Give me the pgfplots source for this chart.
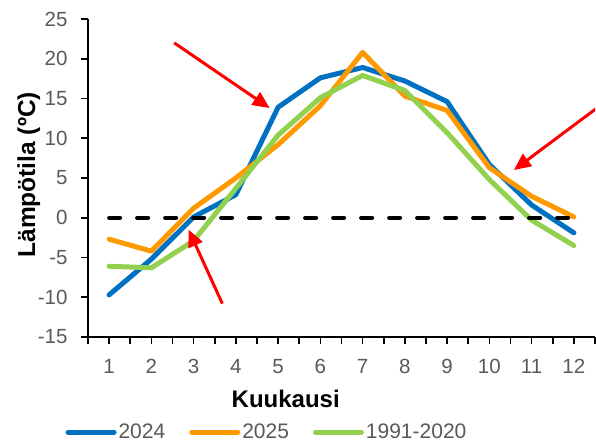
\documentclass[border=0pt]{standalone}
\usepackage{pgfplots}
\pgfplotsset{compat=1.18}
\usepackage{fontspec}
\setmainfont{Liberation Sans}
\usetikzlibrary{arrows.meta}
\definecolor{c2024}{HTML}{0070C0}
\definecolor{c2025}{HTML}{FF9900}
\definecolor{cnorm}{HTML}{92D050}
\definecolor{tickgray}{HTML}{595959}

\begin{document}
\begin{tikzpicture}
\useasboundingbox (-88bp,-106bp) rectangle (508bp,337bp);
\begin{axis}[
  scale only axis, width=507bp, height=318bp,
  xmin=0.5, xmax=12.5, ymin=-15, ymax=25,
  axis lines*=left,
  axis line style={line width=1.8bp},
  xtick={1,...,12}, minor xtick={0.5,1.5,...,12.5},
  ytick={-15,-10,...,25},
  tick align=outside,
  major tick length=7bp, minor tick length=7bp,
  tick style={black, line width=1.6bp},
  ticklabel style={font=\fontsize{20.5bp}{24bp}\selectfont, text=tickgray},
  xticklabel style={yshift=-12bp},
  yticklabel style={xshift=-10bp},
  /pgf/number format/assume math mode=true,
  xlabel={Kuukausi},
  ylabel={Lämpötila (ºC)},
  xlabel style={at={(axis description cs:0.39,-0.222)}, anchor=base,
    font=\bfseries\fontsize{24bp}{28bp}\selectfont},
  ylabel style={at={(axis description cs:-0.1045,0.51)}, anchor=base,
    font=\bfseries\fontsize{24.5bp}{28bp}\selectfont},
  legend columns=3,
  legend style={at={(axis description cs:0.353,-0.299)}, anchor=center,
    draw=none, fill=none, text=tickgray,
    font=\fontsize{21bp}{24bp}\selectfont,
    /tikz/every even column/.append style={column sep=22bp}},
  legend image code/.code={\draw[#1] (0bp,0bp) -- (46bp,0bp);},
  every axis plot/.append style={line width=5bp, line join=round, line cap=round},
]
% 2024
\addplot[c2024] coordinates {
  (1,-9.7) (2,-5.2) (3,0.1) (4,2.9) (5,13.9) (6,17.6)
  (7,18.9) (8,17.2) (9,14.6) (10,6.7) (11,1.6) (12,-1.9)
};
% 2025
\addplot[c2025] coordinates {
  (1,-2.7) (2,-4.2) (3,1.2) (4,5.0) (5,9.2) (6,14.1)
  (7,20.8) (8,15.3) (9,13.5) (10,6.3) (11,2.7) (12,0.1)
};
% 1991-2020
\addplot[cnorm] coordinates {
  (1,-6.1) (2,-6.3) (3,-2.9) (4,3.7) (5,10.4) (6,15.1)
  (7,17.9) (8,16.0) (9,10.7) (10,4.8) (11,-0.3) (12,-3.5)
};
\addplot[black, line width=4bp, line cap=round, dash pattern=on 11bp off 17bp, forget plot]
  coordinates {(1,0) (12,0)};
\legend{2024, 2025, 1991-2020}
% red arrows
\draw[red, line width=3bp, -{Triangle[length=17bp,width=15bp]}]
  (axis cs:2.54,22.0) -- (axis cs:4.80,13.8);
\draw[red, line width=3bp, -{Triangle[length=17bp,width=15bp]}]
  (axis cs:3.68,-10.8) -- (axis cs:2.88,-1.5);
\draw[red, line width=3bp, -{Triangle[length=17bp,width=15bp]}]
  (axis cs:12.52,13.7) -- (axis cs:10.58,6.0);
\end{axis}
\end{tikzpicture}
\end{document}
